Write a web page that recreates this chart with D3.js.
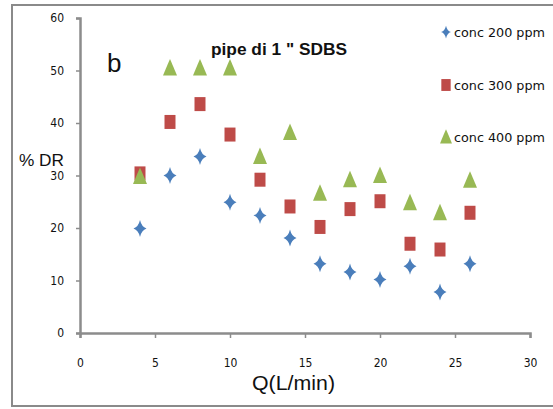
<!DOCTYPE html>
<html>
<head>
<meta charset="utf-8">
<script src="https://cdn.jsdelivr.net/npm/d3@7"></script>
<style>
  html, body { margin: 0; padding: 0; background: #fff; }
  svg { display: block; }
  text { font-family: "Liberation Sans", Arial, sans-serif; fill: #111; }
</style>
</head>
<body>
<svg id="chart" width="553" height="409"></svg>
<script>
// Flow rate Q (L/min)
const flow = [4, 6, 8, 10, 12, 14, 16, 18, 20, 22, 24, 26];
// Drag reduction %DR for each SDBS concentration
const dr200 = [19.9, 30.0, 33.6, 24.9, 22.4, 18.1, 13.2, 11.6, 10.2, 12.7, 7.8, 13.2];
const dr300 = [30.4, 40.2, 43.6, 37.8, 29.2, 24.1, 20.2, 23.6, 25.1, 17.0, 15.9, 22.9];
const dr400 = [29.8, 50.5, 50.5, 50.5, 33.6, 38.2, 26.6, 29.2, 30.0, 24.8, 22.9, 29.1];
const seriesNames = ["conc 200 ppm", "conc 300 ppm", "conc 400 ppm"];
const xTicks = [0, 5, 10, 15, 20, 25, 30];
const yTicks = [0, 10, 20, 30, 40, 50, 60];

const colors = ["#4a7ebb", "#be4b48", "#98b954"];
const svg = d3.select("#chart");

// outer chart frame (right side runs past the page edge)
svg.append("rect")
  .attr("x", 12).attr("y", 5).attr("width", 560).attr("height", 401)
  .attr("fill", "none").attr("stroke", "#8a8a8a").attr("stroke-width", 2);

const x = d3.scaleLinear().domain([0, 30]).range([80, 530]);
const y = d3.scaleLinear().domain([0, 60]).range([333, 18]);

const axisColor = "#8c8c8c";

// x axis
const gx = svg.append("g").attr("transform", `translate(0,${y(0)})`)
  .call(d3.axisBottom(x).tickValues(xTicks).tickSize(5).tickPadding(20).tickFormat(d3.format("d")));
// y axis
const gy = svg.append("g").attr("transform", `translate(${x(0)},0)`)
  .call(d3.axisLeft(y).tickValues(yTicks).tickSize(4).tickPadding(12).tickFormat(d3.format("d")));

[gx, gy].forEach(g => {
  g.select(".domain").attr("stroke", axisColor).attr("stroke-width", 2.5);
  g.selectAll(".tick line").attr("stroke", axisColor).attr("stroke-width", 1.5);
  g.selectAll(".tick text")
    .attr("fill", "#111")
    .style("font-family", "'Liberation Sans Narrow', 'DejaVu Sans Condensed', sans-serif")
    .style("font-size", "12px");
});

// marker shapes
const diamond = "M0,-8.5 Q1.6,-1.6 6.5,0 Q1.6,1.6 0,8.5 Q-1.6,1.6 -6.5,0 Q-1.6,-1.6 0,-8.5 Z";
const square = "M-5.5,-7 L5.5,-7 L5.5,7 L-5.5,7 Z";
const triangle = "M0,-9 Q2.2,-4 7,7.5 L-7,7.5 Q-2.2,-4 0,-9 Z";
const shapes = [diamond, square, triangle];
const seriesData = [dr200, dr300, dr400];

seriesData.forEach((vals, i) => {
  svg.append("g").selectAll("path")
    .data(flow.map((q, k) => ({ q, v: vals[k] })))
    .join("path")
    .attr("d", shapes[i])
    .attr("transform", d => `translate(${x(d.q)},${y(d.v)})`)
    .attr("fill", colors[i]);
});

// legend
const legendY = [32, 85, 137];
seriesNames.forEach((name, i) => {
  const scale = i === 0 ? 0.75 : 0.85;
  svg.append("path")
    .attr("d", shapes[i])
    .attr("transform", `translate(446,${legendY[i]}) scale(${scale})`)
    .attr("fill", colors[i]);
  svg.append("text")
    .attr("x", 454).attr("y", legendY[i] + 4.5)
    .attr("textLength", 91).attr("lengthAdjust", "spacingAndGlyphs")
    .style("font-family", "'Liberation Sans Narrow', 'DejaVu Sans Condensed', sans-serif")
    .style("font-size", "13px")
    .text(name);
});

// panel letter and title
svg.append("text").attr("x", 107).attr("y", 72)
  .style("font-size", "26px").text("b");

svg.append("text").attr("x", 211).attr("y", 55)
  .attr("textLength", 136).attr("lengthAdjust", "spacingAndGlyphs")
  .style("font-size", "17px").style("font-weight", "bold")
  .text("pipe di 1 \" SDBS");

// axis titles
svg.append("text").attr("x", 19).attr("y", 166)
  .attr("textLength", 45).attr("lengthAdjust", "spacingAndGlyphs")
  .style("font-size", "16px")
  .text("% DR");

svg.append("text").attr("x", 252).attr("y", 390)
  .attr("textLength", 83).attr("lengthAdjust", "spacingAndGlyphs")
  .style("font-size", "20px")
  .text("Q(L/min)");
</script>
</body>
</html>
